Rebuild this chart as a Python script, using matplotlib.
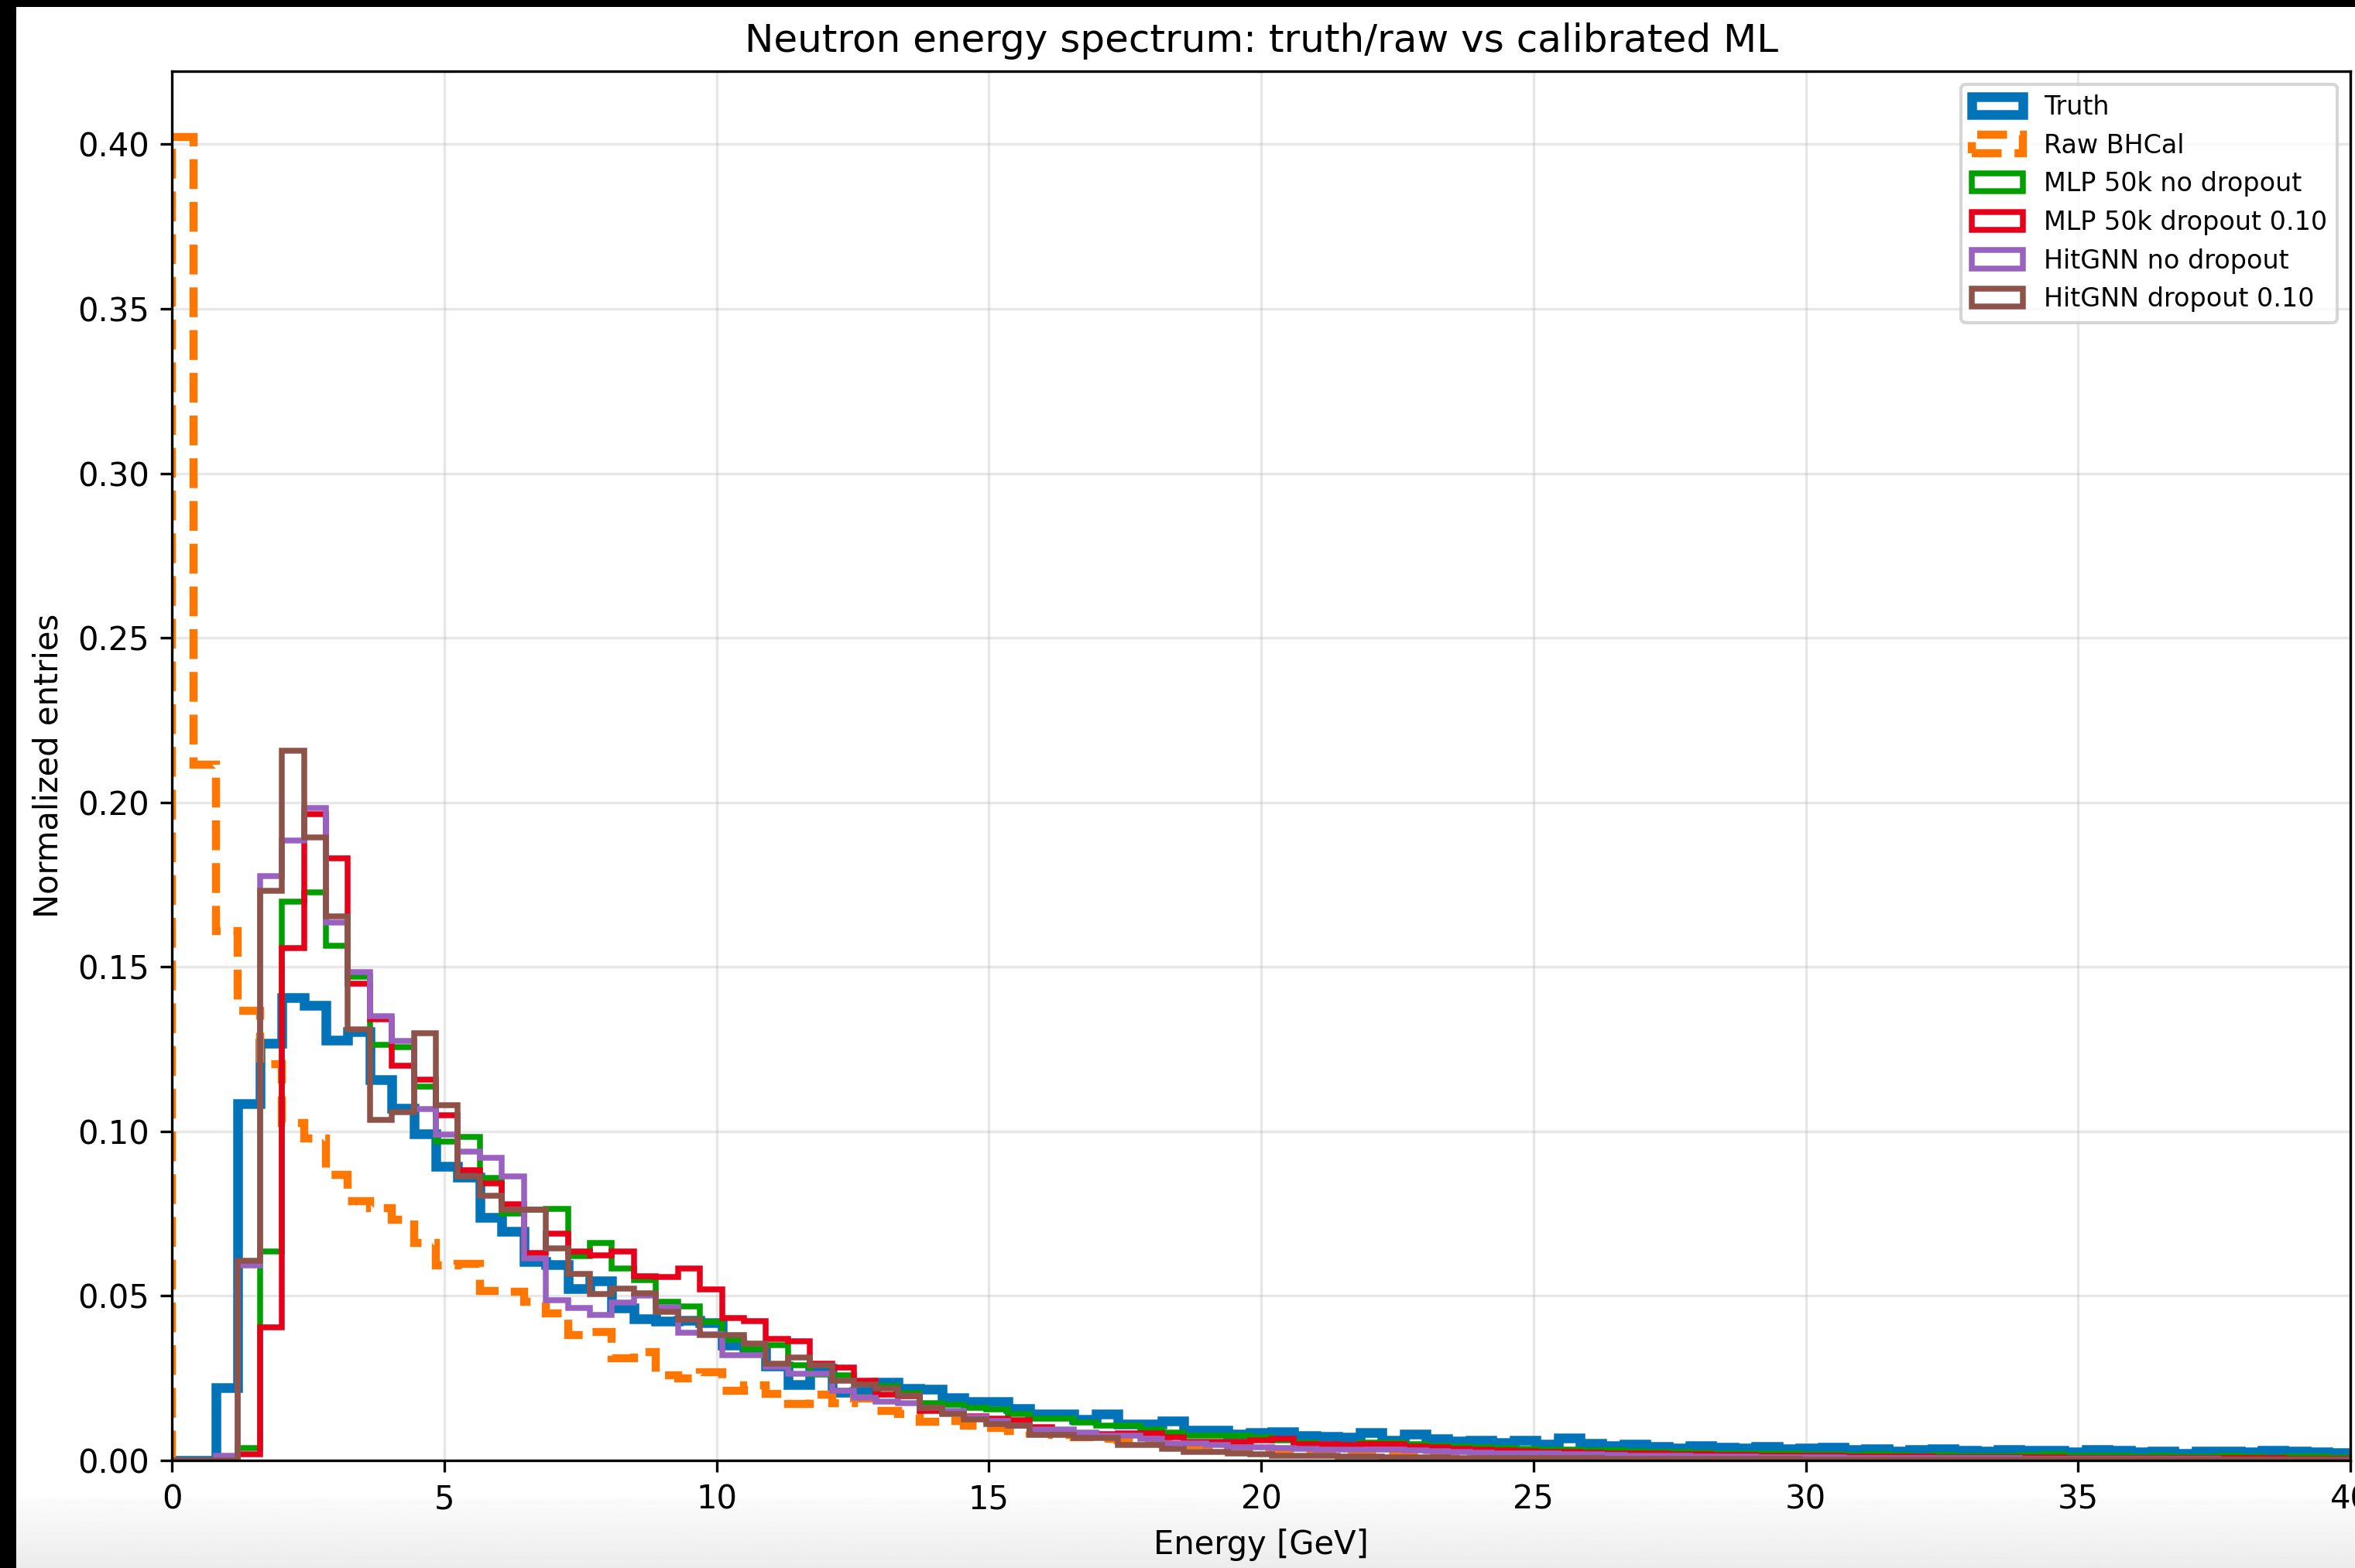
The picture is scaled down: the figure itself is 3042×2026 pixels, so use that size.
import numpy as np
import matplotlib
matplotlib.use("Agg")
import matplotlib.pyplot as plt
from matplotlib.patches import Rectangle

# binning: 100 bins from 0 to 40.4 GeV
n_bins = 100
e_max = 40.4

truth = [0.0, 0.0, 0.0221, 0.1084, 0.1267, 0.1406, 0.1383, 0.1278, 0.1302, 0.1157,
         0.1071, 0.0993, 0.0893, 0.0862, 0.0738, 0.0697, 0.0605, 0.0595, 0.0523, 0.0545,
         0.0464, 0.0430, 0.0423, 0.0425, 0.0419, 0.0350, 0.0330, 0.0287, 0.0230, 0.0280,
         0.0207, 0.0210, 0.0238, 0.0218, 0.0216, 0.0191, 0.0179, 0.0179, 0.0158, 0.0142,
         0.0142, 0.0125, 0.0142, 0.0111, 0.0111, 0.0120, 0.0091, 0.0091, 0.0080, 0.0085,
         0.0088, 0.0076, 0.0074, 0.0070, 0.0085, 0.0060, 0.0080, 0.0065, 0.0058, 0.0062,
         0.0055, 0.0060, 0.0050, 0.0068, 0.0052, 0.0045, 0.0050, 0.0042, 0.0038, 0.0045,
         0.0040, 0.0038, 0.0042, 0.0035, 0.0038, 0.0040, 0.0032, 0.0035, 0.0028, 0.0033,
         0.0036, 0.0030, 0.0029, 0.0032, 0.0030, 0.0031, 0.0027, 0.0032, 0.0030, 0.0026,
         0.0029, 0.0022, 0.0028, 0.0028, 0.0025, 0.0030, 0.0029, 0.0026, 0.0024, 0.0020]

raw = [0.4021, 0.2115, 0.1610, 0.1366, 0.1204, 0.1025, 0.0979, 0.0868, 0.0789, 0.0766,
       0.0731, 0.0661, 0.0593, 0.0598, 0.0516, 0.0513, 0.0483, 0.0448, 0.0382, 0.0391,
       0.0311, 0.0330, 0.0258, 0.0249, 0.0267, 0.0211, 0.0227, 0.0203, 0.0172, 0.0199,
       0.0175, 0.0188, 0.0151, 0.0141, 0.0118, 0.0120, 0.0105, 0.0098, 0.0090, 0.0082,
       0.0078, 0.0070, 0.0065, 0.0060, 0.0058, 0.0052, 0.0048, 0.0045, 0.0040, 0.0036,
       0.0033, 0.0030, 0.0028, 0.0025, 0.0022, 0.0020, 0.0018, 0.0017, 0.0015, 0.0014,
       0.0013, 0.0012, 0.0011, 0.0010, 0.0010, 0.0009, 0.0008, 0.0008, 0.0007, 0.0007,
       0.0006, 0.0006, 0.0006, 0.0005, 0.0005, 0.0005, 0.0004, 0.0005, 0.0004, 0.0004,
       0.0004, 0.0004, 0.0003, 0.0004, 0.0003, 0.0003, 0.0004, 0.0003, 0.0003, 0.0003,
       0.0003, 0.0002, 0.0003, 0.0002, 0.0003, 0.0002, 0.0002, 0.0004, 0.0002, 0.0002]

mlp_nodrop = [0.0, 0.0, 0.0, 0.0038, 0.0636, 0.1699, 0.1727, 0.1564, 0.1470, 0.1262,
              0.1256, 0.1137, 0.0968, 0.0982, 0.0858, 0.0750, 0.0762, 0.0764, 0.0622, 0.0660,
              0.0584, 0.0549, 0.0483, 0.0468, 0.0420, 0.0366, 0.0338, 0.0350, 0.0290, 0.0262,
              0.0259, 0.0240, 0.0225, 0.0205, 0.0175, 0.0170, 0.0160, 0.0156, 0.0140, 0.0128,
              0.0128, 0.0115, 0.0105, 0.0105, 0.0095, 0.0085, 0.0075, 0.0075, 0.0075, 0.0070,
              0.0060, 0.0055, 0.0048, 0.0048, 0.0053, 0.0053, 0.0050, 0.0045, 0.0042, 0.0040,
              0.0038, 0.0036, 0.0034, 0.0032, 0.0030, 0.0030, 0.0028, 0.0026, 0.0025, 0.0024,
              0.0022, 0.0022, 0.0020, 0.0020, 0.0019, 0.0018, 0.0017, 0.0018, 0.0016, 0.0015,
              0.0016, 0.0014, 0.0015, 0.0013, 0.0017, 0.0018, 0.0015, 0.0013, 0.0014, 0.0012,
              0.0013, 0.0012, 0.0011, 0.0013, 0.0012, 0.0010, 0.0011, 0.0012, 0.0010, 0.0009]

mlp_drop = [0.0, 0.0, 0.0, 0.0019, 0.0405, 0.1556, 0.1963, 0.1831, 0.1450, 0.1340,
            0.1199, 0.1158, 0.1048, 0.0883, 0.0842, 0.0779, 0.0631, 0.0690, 0.0636, 0.0623,
            0.0636, 0.0559, 0.0557, 0.0584, 0.0520, 0.0432, 0.0423, 0.0370, 0.0363, 0.0293,
            0.0282, 0.0242, 0.0199, 0.0195, 0.0150, 0.0148, 0.0135, 0.0128, 0.0123, 0.0100,
            0.0083, 0.0083, 0.0080, 0.0083, 0.0083, 0.0070, 0.0056, 0.0056, 0.0056, 0.0060,
            0.0065, 0.0050, 0.0050, 0.0048, 0.0050, 0.0050, 0.0042, 0.0040, 0.0035, 0.0033,
            0.0030, 0.0028, 0.0027, 0.0025, 0.0024, 0.0022, 0.0021, 0.0020, 0.0019, 0.0018,
            0.0017, 0.0016, 0.0015, 0.0014, 0.0014, 0.0013, 0.0012, 0.0012, 0.0011, 0.0011,
            0.0010, 0.0010, 0.0009, 0.0010, 0.0009, 0.0010, 0.0008, 0.0008, 0.0008, 0.0007,
            0.0007, 0.0007, 0.0006, 0.0006, 0.0006, 0.0006, 0.0005, 0.0005, 0.0005, 0.0005]

gnn_nodrop = [0.0, 0.0, 0.0015, 0.0592, 0.1775, 0.1883, 0.1982, 0.1635, 0.1485, 0.1350,
              0.1276, 0.1067, 0.0990, 0.0938, 0.0919, 0.0864, 0.0613, 0.0486, 0.0464, 0.0442,
              0.0479, 0.0500, 0.0465, 0.0388, 0.0384, 0.0320, 0.0320, 0.0285, 0.0264, 0.0264,
              0.0212, 0.0190, 0.0179, 0.0173, 0.0160, 0.0150, 0.0132, 0.0120, 0.0105, 0.0093,
              0.0093, 0.0085, 0.0075, 0.0075, 0.0065, 0.0052, 0.0052, 0.0048, 0.0040, 0.0040,
              0.0038, 0.0035, 0.0033, 0.0033, 0.0033, 0.0033, 0.0030, 0.0028, 0.0026, 0.0024,
              0.0022, 0.0021, 0.0020, 0.0019, 0.0018, 0.0016, 0.0015, 0.0014, 0.0013, 0.0012,
              0.0012, 0.0011, 0.0010, 0.0010, 0.0009, 0.0009, 0.0008, 0.0008, 0.0007, 0.0007,
              0.0007, 0.0006, 0.0006, 0.0006, 0.0005, 0.0005, 0.0005, 0.0005, 0.0004, 0.0004,
              0.0004, 0.0004, 0.0004, 0.0003, 0.0003, 0.0003, 0.0003, 0.0003, 0.0003, 0.0002]

gnn_drop = [0.0, 0.0, 0.0, 0.0607, 0.1731, 0.2158, 0.1894, 0.1653, 0.1309, 0.1036,
            0.1058, 0.1298, 0.1080, 0.0864, 0.0805, 0.0762, 0.0762, 0.0645, 0.0568, 0.0506,
            0.0521, 0.0509, 0.0451, 0.0427, 0.0380, 0.0380, 0.0354, 0.0293, 0.0314, 0.0290,
            0.0243, 0.0231, 0.0219, 0.0197, 0.0160, 0.0140, 0.0125, 0.0110, 0.0105, 0.0077,
            0.0077, 0.0068, 0.0068, 0.0048, 0.0048, 0.0035, 0.0025, 0.0025, 0.0020, 0.0018,
            0.0015, 0.0014, 0.0013, 0.0012, 0.0011, 0.0010, 0.0010, 0.0009, 0.0008, 0.0008,
            0.0007, 0.0007, 0.0006, 0.0006, 0.0006, 0.0005, 0.0005, 0.0005, 0.0004, 0.0004,
            0.0004, 0.0004, 0.0004, 0.0004, 0.0003, 0.0003, 0.0003, 0.0003, 0.0003, 0.0003,
            0.0003, 0.0003, 0.0002, 0.0002, 0.0002, 0.0002, 0.0002, 0.0002, 0.0002, 0.0002,
            0.0002, 0.0002, 0.0002, 0.0002, 0.0002, 0.0002, 0.0002, 0.0002, 0.0002, 0.0002]

labels = ["Truth", "Raw BHCal", "MLP 50k no dropout", "MLP 50k dropout 0.10",
          "HitGNN no dropout", "HitGNN dropout 0.10"]
series = [truth, raw, mlp_nodrop, mlp_drop, gnn_nodrop, gnn_drop]
colors = ["#0173B9", "#FF7700", "#00A000", "#E6001A", "#9A62C0", "#8E5248"]
widths = [3.0, 2.5, 1.8, 1.8, 1.8, 1.8]
styles = ["-", "--", "-", "-", "-", "-"]

edges = np.linspace(0, e_max, n_bins + 1)
centers = 0.5 * (edges[1:] + edges[:-1])

W, H, DPI = 3042, 2026, 300
fig = plt.figure(figsize=(W / DPI, H / DPI), dpi=DPI, facecolor="black")

# white page inside the dark screenshot frame
fig.patches.append(Rectangle((21 / W, 0), 1 - 21 / W, 1 - 9 / H,
                             transform=fig.transFigure, facecolor="white",
                             edgecolor="none", zorder=-3))
# light grey fade along the bottom
gax = fig.add_axes([21 / W, 0, 1 - 21 / W, 91 / H], zorder=-2)
grad = np.linspace(0.985, 0.925, 50).reshape(-1, 1)
gax.imshow(grad, aspect="auto", cmap="gray", vmin=0, vmax=1,
           extent=[0, 1, 0, 1], origin="upper")
gax.axis("off")

ax = fig.add_axes([222 / W, (H - 1887) / H, (3036 - 222) / W, (1887 - 92) / H])
for vals, lab, c, lw, ls in zip(series, labels, colors, widths, styles):
    ax.hist(centers, bins=edges, weights=vals, histtype="step",
            color=c, linewidth=lw, linestyle=ls, label=lab)

ax.set_xlim(0, 40)
ax.set_ylim(0, 0.4222)
ax.set_xlabel("Energy [GeV]")
ax.set_ylabel("Normalized entries")
ax.set_title("Neutron energy spectrum: truth/raw vs calibrated ML", fontsize=12)
ax.grid(alpha=0.3)
ax.legend(loc="upper right", fontsize=8)

fig.savefig("out.png", dpi=DPI, facecolor=fig.get_facecolor())
